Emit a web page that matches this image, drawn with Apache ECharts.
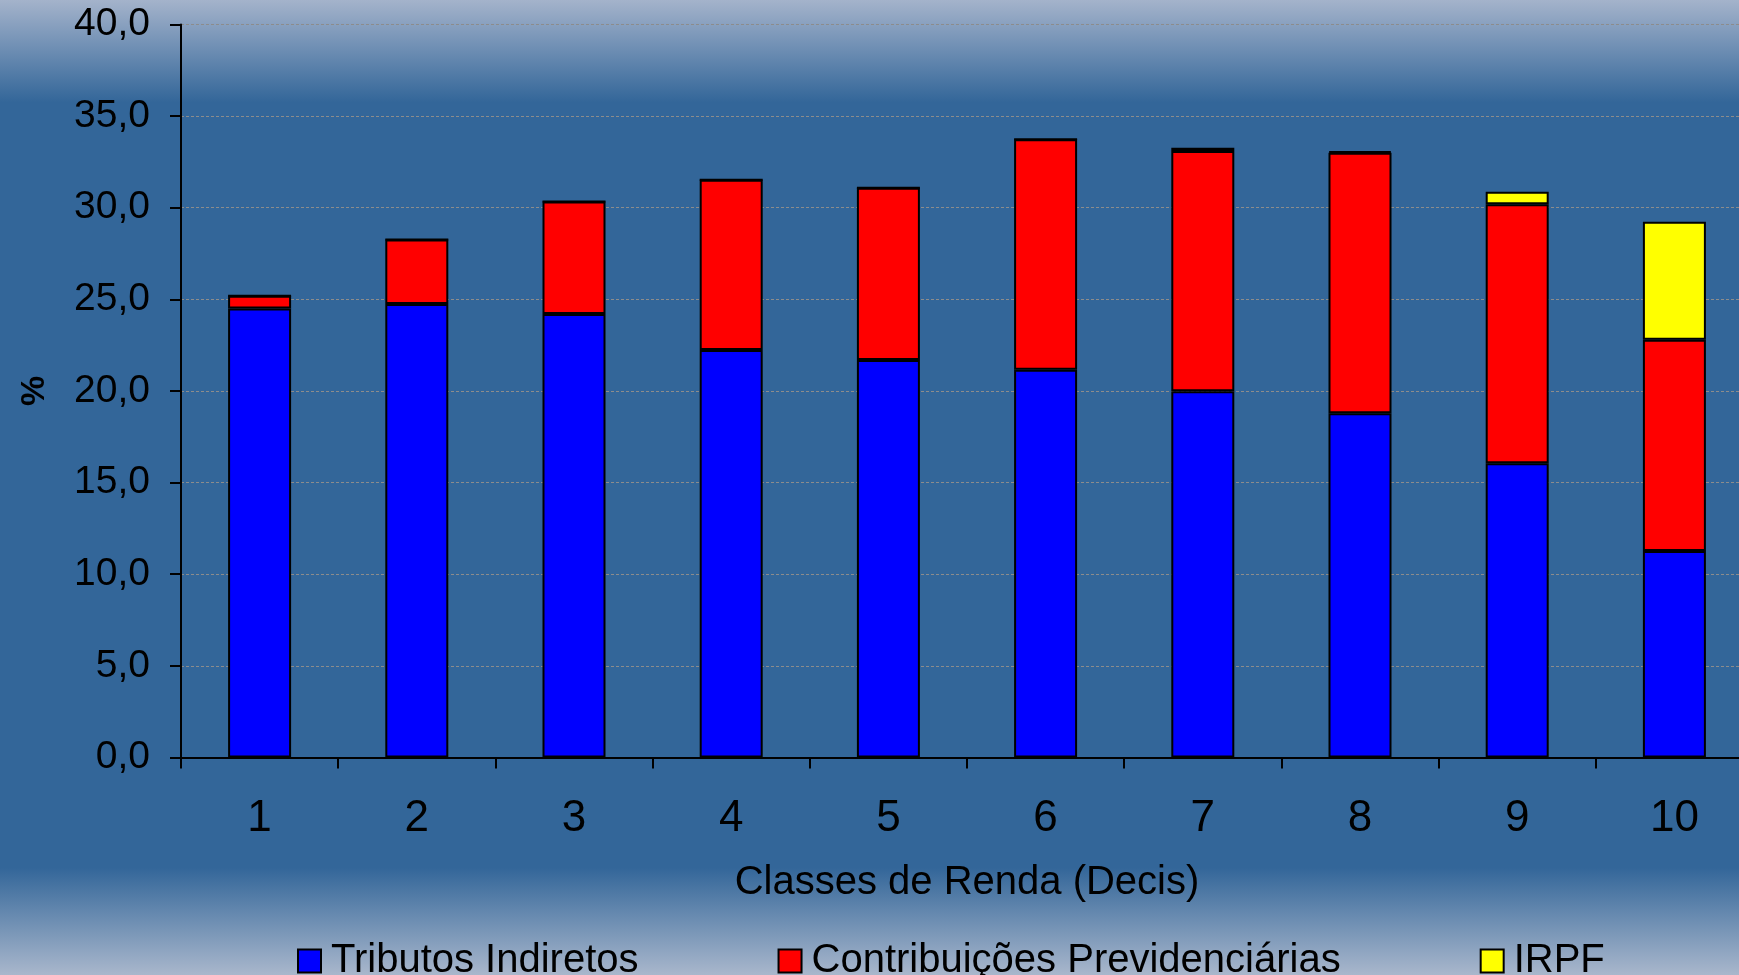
<!DOCTYPE html>
<html>
<head>
<meta charset="utf-8">
<script src="https://cdn.jsdelivr.net/npm/echarts@6/dist/echarts.min.js"></script>
<style>
html,body{margin:0;padding:0;background:#336699;overflow:hidden;width:1739px;height:975px;}
#c{width:1760px;height:975px;}
</style>
</head>
<body>
<div id="c"></div>
<script>
const categories = ['1','2','3','4','5','6','7','8','9','10'];
const seriesNames = ['Tributos Indiretos','Contribuições Previdenciárias','IRPF'];
const tributosIndiretos = [24.5, 24.75, 24.2, 22.24, 21.69, 21.15, 19.99, 18.78, 16.05, 11.27];
const contribPrevid = [0.7, 3.51, 6.14, 9.28, 9.4, 12.59, 13.1, 14.22, 14.14, 11.52];
const irpf = [0, 0, 0, 0, 0, 0, 0.18, 0.07, 0.68, 6.44];
const yTicks = [0, 5, 10, 15, 20, 25, 30, 35, 40];

const colors = ['#0000ff', '#ff0000', '#ffff00'];
const font = 'Liberation Sans, Arial, sans-serif';

const chart = echarts.init(document.getElementById('c'));
const mk = (name, data, color) => ({
  name: name,
  type: 'bar',
  stack: 'total',
  data: data,
  barWidth: 63,
  itemStyle: { color: color, borderColor: '#000', borderWidth: 2 }
});
chart.setOption({
  animation: false,
  backgroundColor: {
    type: 'linear', x: 0, y: 0, x2: 0, y2: 1,
    colorStops: [
      { offset: 0, color: '#a4b3cb' },
      { offset: 0.105, color: '#336699' },
      { offset: 0.89, color: '#336699' },
      { offset: 1, color: '#a9b7cc' }
    ]
  },
  grid: { left: 181, right: 7, top: 24.4, bottom: 217.5, containLabel: false },
  legend: {
    left: 292, top: 936,
    itemWidth: 23, itemHeight: 23, itemGap: 139,
    icon: 'rect',
    itemStyle: { borderColor: '#000', borderWidth: 2 },
    textStyle: { fontFamily: font, fontSize: 40, color: '#000', padding: [0, 0, 0, 5] },
    data: seriesNames
  },
  xAxis: {
    type: 'category',
    data: categories,
    name: 'Classes de Renda (Decis)',
    nameLocation: 'middle',
    nameGap: 105,
    nameTextStyle: { fontFamily: font, fontSize: 40, color: '#000' },
    axisLine: { lineStyle: { color: '#000', width: 2 } },
    axisTick: { show: true, length: 11, lineStyle: { color: '#000', width: 2 }, alignWithLabel: false },
    axisLabel: { fontFamily: font, fontSize: 44, color: '#000', margin: 39 },
    splitLine: { show: false }
  },
  yAxis: {
    type: 'value',
    min: yTicks[0], max: yTicks[yTicks.length - 1], interval: 5,
    name: '%',
    nameLocation: 'middle',
    nameGap: 129,
    nameTextStyle: { fontFamily: font, fontSize: 34, fontWeight: 'bold', color: '#000' },
    axisLine: { show: true, lineStyle: { color: '#000', width: 2 } },
    axisTick: { show: true, inside: false, length: 11, lineStyle: { color: '#000', width: 2 } },
    axisLabel: {
      fontFamily: font, fontSize: 39, color: '#000', margin: 31,
      formatter: v => v.toFixed(1).replace('.', ',')
    },
    splitLine: { show: true, lineStyle: { color: '#8c8c8c', width: 1.2, type: [3, 2] } }
  },
  series: [
    mk(seriesNames[0], tributosIndiretos, colors[0]),
    mk(seriesNames[1], contribPrevid, colors[1]),
    mk(seriesNames[2], irpf, colors[2])
  ]
});
</script>
</body>
</html>
